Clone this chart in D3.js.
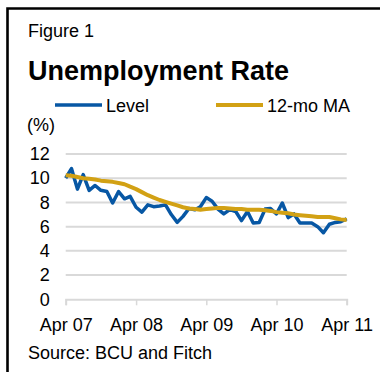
<!DOCTYPE html>
<html>
<head>
<meta charset="utf-8">
<script src="https://cdn.jsdelivr.net/npm/d3@7"></script>
<style>
  html, body { margin: 0; padding: 0; background: #fff; }
  svg { display: block; font-family: "Liberation Sans", Arial, sans-serif; }
</style>
</head>
<body>
<svg id="chart" width="380" height="376"></svg>
<script>
// Monthly unemployment rate, Apr 2007 – Apr 2011
const startMonth = "2007-04";
const levelValues = [
  10.0, 10.8, 9.1, 10.3, 9.0, 9.4, 9.0, 8.9, 7.95, 8.9, 8.3, 8.5,
  7.6, 7.2, 7.8, 7.65, 7.7, 7.8, 7.0, 6.35, 6.85, 7.5, 7.4, 7.65,
  8.4, 8.1, 7.45, 7.05, 7.4, 7.25, 6.5, 7.25, 6.3, 6.35, 7.45, 7.5,
  7.05, 7.95, 6.75, 7.05, 6.3, 6.3, 6.3, 6.0, 5.5, 6.2, 6.35, 6.4, 6.65
];
const maValues = [
  10.25, 10.2, 10.1, 10.0, 9.95, 9.9, 9.8, 9.75, 9.7, 9.6, 9.5, 9.3,
  9.1, 8.85, 8.6, 8.4, 8.2, 8.05, 7.9, 7.75, 7.6, 7.5, 7.45, 7.4,
  7.45, 7.5, 7.55, 7.55, 7.5, 7.45, 7.45, 7.4, 7.4, 7.4, 7.35, 7.3,
  7.2, 7.15, 7.1, 7.0, 6.95, 6.9, 6.85, 6.8, 6.8, 6.8, 6.7, 6.6, 6.55
];
const yTicks = [0, 2, 4, 6, 8, 10, 12];
const xTickLabels = ["Apr 07", "Apr 08", "Apr 09", "Apr 10", "Apr 11"];
const seriesNames = ["Level", "12-mo MA"];
const seriesColors = ["#0757a4", "#d2a114"];

const svg = d3.select("#chart");
const parseMonth = d3.timeParse("%Y-%m");
const start = parseMonth(startMonth);
const dates = levelValues.map((_, i) => d3.timeMonth.offset(start, i));
const xTickDates = xTickLabels.map((_, i) => d3.timeYear.offset(start, i));

const x = d3.scaleTime().domain([dates[0], dates[dates.length - 1]]).range([65.7, 346.7]);
const y = d3.scaleLinear().domain([0, 12]).range([299.3, 154]);

// Frame
svg.append("path")
  .attr("d", "M7.5,372 V8.5 H380")
  .attr("fill", "none").attr("stroke", "#000").attr("stroke-width", 2.6);

// Headings
svg.append("text").attr("x", 28).attr("y", 37).attr("font-size", 18).text("Figure 1");
svg.append("text").attr("x", 28).attr("y", 80).attr("font-size", 27)
  .attr("font-weight", "bold").text("Unemployment Rate");
svg.append("text").attr("x", 27).attr("y", 131).attr("font-size", 18).text("(%)");

// Legend
const legend = svg.append("g");
const legendX = [55, 216];
seriesNames.forEach((name, i) => {
  legend.append("line")
    .attr("x1", legendX[i]).attr("x2", legendX[i] + 47)
    .attr("y1", 105).attr("y2", 105)
    .attr("stroke", seriesColors[i]).attr("stroke-width", i === 0 ? 3.5 : 4);
  legend.append("text")
    .attr("x", legendX[i] + 51).attr("y", 111.5)
    .attr("font-size", 18).text(name);
});

// Gridlines
svg.append("g")
  .selectAll("line")
  .data(yTicks.filter(t => t > 0))
  .join("line")
  .attr("x1", x.range()[0]).attr("x2", x.range()[1])
  .attr("y1", d => y(d)).attr("y2", d => y(d))
  .attr("stroke", "#d9d9d9").attr("stroke-width", 2);

// Y axis labels
const yAxis = svg.append("g")
  .attr("transform", "translate(65.7,0)")
  .call(d3.axisLeft(y).tickValues(yTicks).tickSize(0).tickPadding(16).tickFormat(d3.format("d")));
yAxis.select(".domain").remove();
yAxis.selectAll("text").attr("font-size", 18).attr("font-family", null).attr("fill", "#000");

// X axis
const xAxis = svg.append("g")
  .attr("transform", `translate(0,${y(0)})`)
  .call(d3.axisBottom(x).tickValues(xTickDates).tickSize(6).tickPadding(13)
    .tickFormat((d, i) => xTickLabels[i]));
xAxis.select(".domain").attr("stroke", "#d9d9d9").attr("stroke-width", 2);
xAxis.selectAll(".tick line").attr("stroke", "#d9d9d9").attr("stroke-width", 1.5);
xAxis.selectAll("text").attr("font-size", 18).attr("font-family", null).attr("fill", "#000");

// Series lines
const line = d3.line().x((d, i) => x(dates[i])).y(d => y(d));
[levelValues, maValues].forEach((vals, i) => {
  svg.append("path")
    .datum(vals)
    .attr("d", line)
    .attr("fill", "none")
    .attr("stroke", seriesColors[i])
    .attr("stroke-width", i === 0 ? 3.5 : 4)
    .attr("stroke-linejoin", "round");
});

// Source
svg.append("text").attr("x", 28).attr("y", 359).attr("font-size", 18).text("Source: BCU and Fitch");
</script>
</body>
</html>
